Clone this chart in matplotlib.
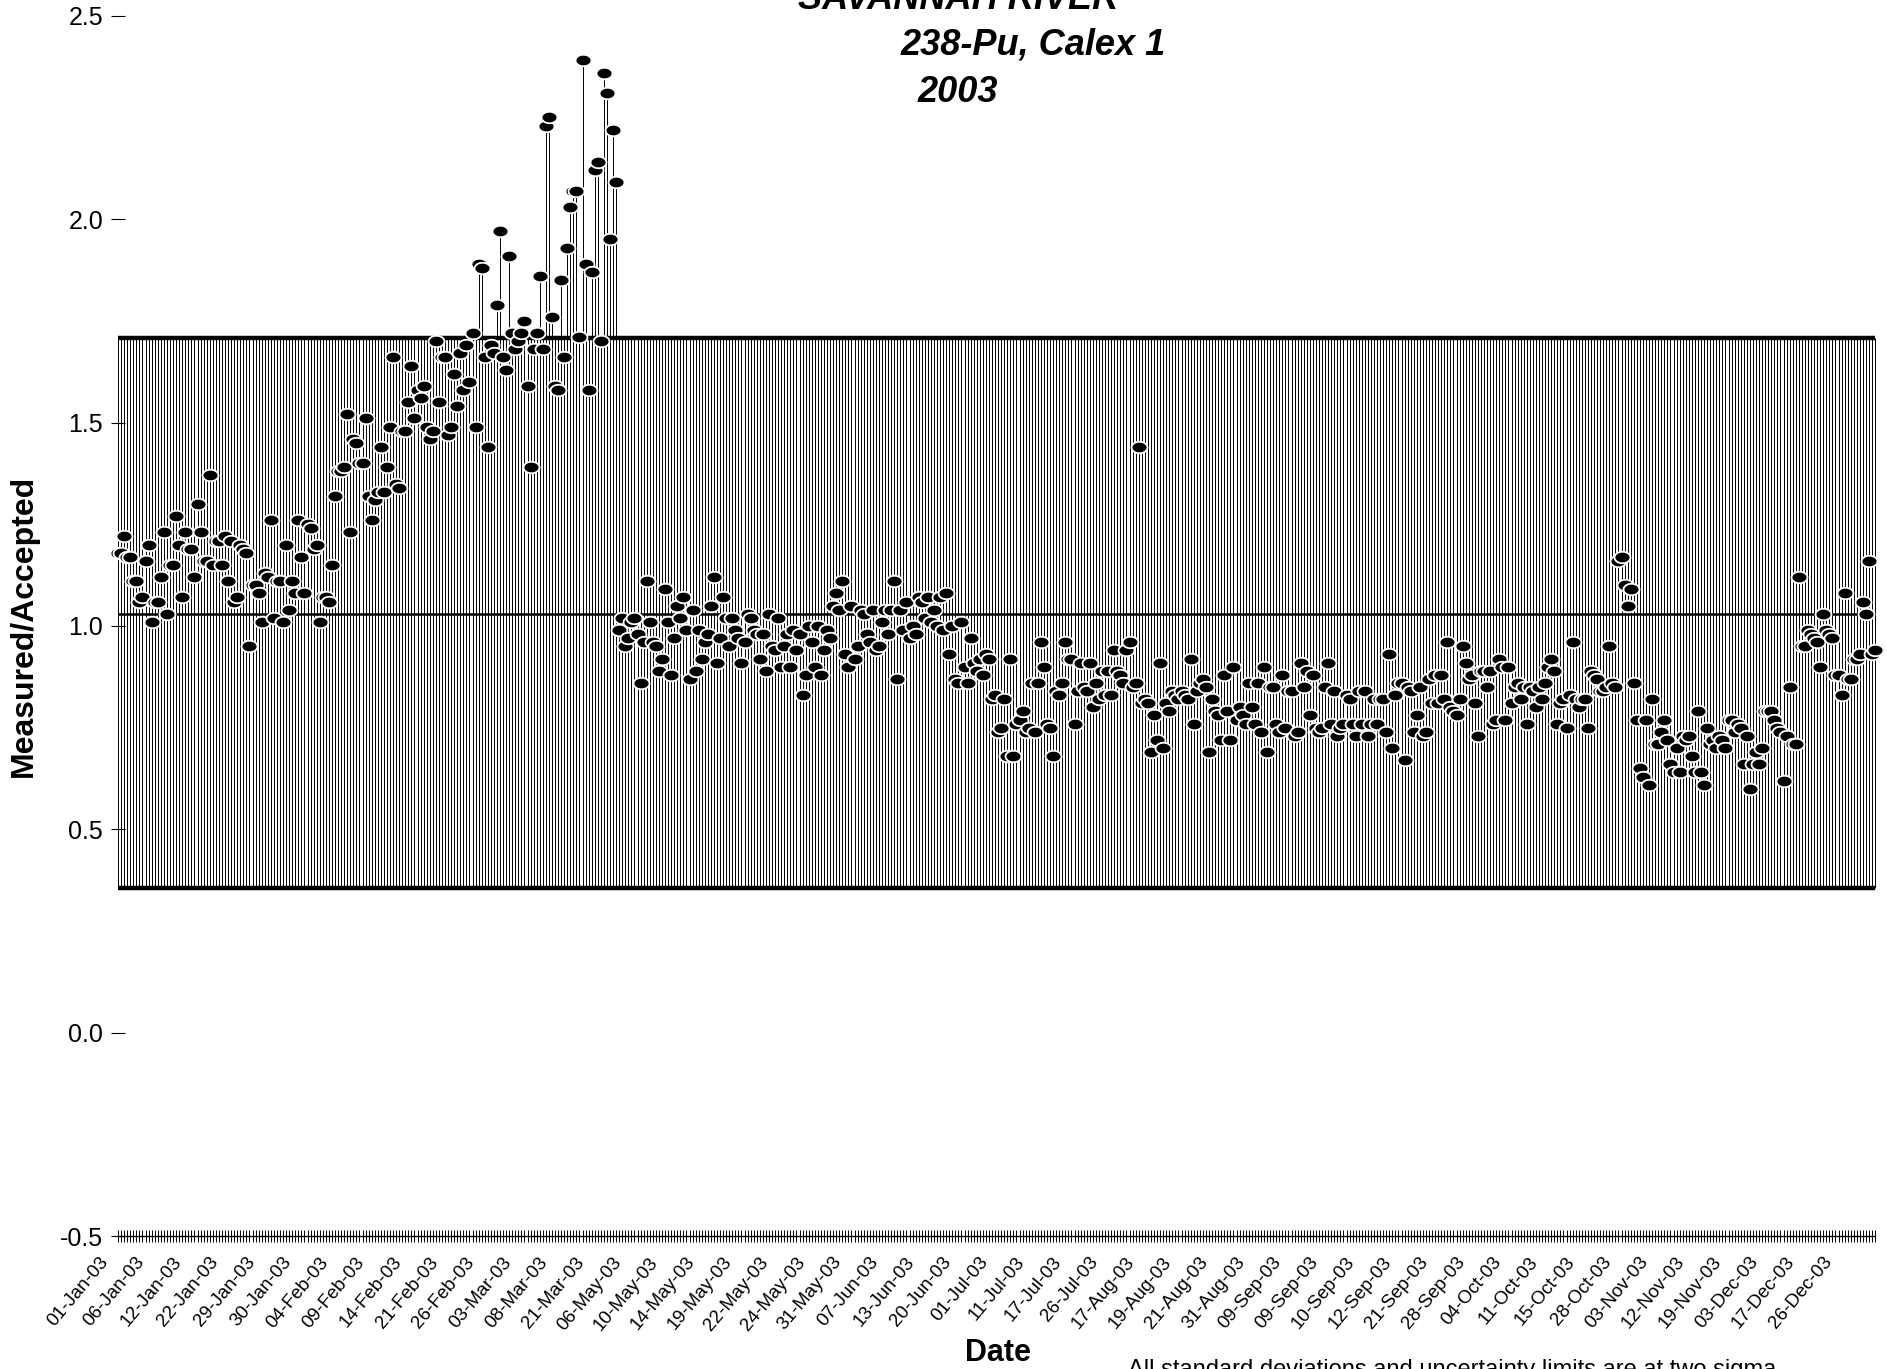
import numpy as np
import matplotlib.pyplot as plt
from matplotlib.path import Path
from matplotlib.transforms import ScaledTranslation

plt.rcParams['font.family'] = ['Liberation Sans', 'DejaVu Sans']

vals_jan = [1.18, 1.18, 1.22, 1.17, 1.17, 1.11, 1.11, 1.06, 1.07, 1.16, 1.20, 1.01,
            1.06, 1.06, 1.12, 1.23, 1.03, 1.15, 1.15, 1.27, 1.20, 1.07, 1.23, 1.19,
            1.19, 1.12, 1.30, 1.23, 1.16, 1.16, 1.37, 1.15, 1.21, 1.21, 1.15, 1.22,
            1.11, 1.21, 1.06, 1.07, 1.20, 1.19, 1.18, 0.95, 1.10, 1.10, 1.08, 1.01,
            1.13, 1.12, 1.26, 1.02, 1.11, 1.11, 1.01, 1.20, 1.04, 1.11, 1.08, 1.26,
            1.17, 1.08, 1.25, 1.24, 1.19, 1.20, 1.01, 1.07, 1.07, 1.06, 1.15, 1.32]
vals_feb = [1.38, 1.38, 1.39, 1.52, 1.23, 1.46, 1.45, 1.40, 1.40, 1.51, 1.32, 1.26,
            1.31, 1.33, 1.44, 1.33, 1.39, 1.49, 1.66, 1.35, 1.34, 1.48, 1.48, 1.55,
            1.64, 1.51, 1.58, 1.56, 1.59, 1.49, 1.46, 1.48, 1.70, 1.55, 1.66, 1.66,
            1.47, 1.49, 1.62, 1.54, 1.67, 1.58, 1.69, 1.60, 1.72, 1.49, 1.89, 1.88,
            1.66, 1.44, 1.69, 1.67, 1.79, 1.97, 1.66, 1.63, 1.91, 1.72, 1.68, 1.70]
vals_mar = [1.72, 1.75, 1.59, 1.39, 1.68, 1.72, 1.86, 1.68, 2.23, 2.25, 1.76, 1.59,
            1.58, 1.85, 1.66, 1.93, 2.03, 2.07, 2.07, 1.71, 2.39, 1.89, 1.58, 1.87,
            2.12, 2.14, 1.70, 2.36, 2.31, 1.95, 2.22, 2.09]
vals_may = [0.99, 1.02, 0.95, 0.97,
            1.01, 1.02, 0.98, 0.86, 0.96, 1.11, 1.01, 0.96, 0.95, 0.89, 0.92, 1.09,
            1.01, 0.88, 0.97, 1.05, 1.02, 1.07, 0.99, 0.87, 1.04, 0.89, 0.99, 0.92,
            0.96, 0.98, 1.05, 1.12, 0.91, 0.97, 1.07, 1.02, 0.95, 1.02, 0.99, 0.97,
            0.91, 0.96, 1.03, 1.02, 0.99, 0.98, 0.92, 0.98, 0.89, 1.03, 0.95, 0.94,
            1.02, 0.90, 0.95, 0.98, 0.90, 0.99, 0.94, 0.98, 0.83, 0.88, 1.00, 0.96,
            0.90, 1.00, 0.88, 0.94, 0.99, 0.97, 1.05, 1.08, 1.04, 1.11, 0.93, 0.90,
            1.05, 0.92, 0.95, 1.04, 1.03, 0.98, 0.96, 1.04, 0.94, 0.95, 1.01, 1.04,
            0.98, 1.04, 1.11, 0.87, 1.04, 0.99, 1.06, 0.97, 1.00, 0.98, 1.07, 1.06,
            1.02, 1.07, 1.01, 1.04, 1.00, 1.07, 0.99, 1.08, 0.93, 1.00, 0.87, 0.86,
            1.01, 0.90, 0.86, 0.97, 0.91, 0.89, 0.92, 0.88, 0.93, 0.92, 0.82, 0.83]
vals_jul = [0.74, 0.75, 0.82, 0.68, 0.92, 0.68, 0.76, 0.77, 0.79, 0.74, 0.75, 0.86,
            0.74, 0.86, 0.96, 0.90, 0.76, 0.75, 0.68, 0.84, 0.83, 0.86, 0.96, 0.92,
            0.92, 0.76, 0.84, 0.91, 0.85, 0.84, 0.91, 0.80, 0.86, 0.82, 0.89, 0.83,
            0.89, 0.83, 0.94, 0.89, 0.88, 0.86, 0.94, 0.96, 0.85, 0.86, 1.44, 0.81,
            0.82, 0.81, 0.69, 0.78, 0.72, 0.91, 0.70, 0.81, 0.79, 0.84, 0.83, 0.82,
            0.84, 0.83, 0.82, 0.92, 0.76, 0.84, 0.86, 0.87, 0.85, 0.69, 0.82, 0.79,
            0.78, 0.72, 0.88, 0.79, 0.72, 0.90, 0.77, 0.80, 0.78, 0.76, 0.86, 0.80,
            0.76, 0.86, 0.74, 0.90, 0.69, 0.85, 0.85, 0.76, 0.74, 0.88, 0.75, 0.84,
            0.84, 0.73, 0.74, 0.91, 0.85, 0.89, 0.78, 0.88, 0.75, 0.74, 0.75, 0.85,
            0.91, 0.76, 0.84, 0.73, 0.75, 0.76, 0.83, 0.82, 0.76, 0.73, 0.84, 0.76,
            0.84, 0.73, 0.76, 0.82, 0.76, 0.82, 0.82, 0.74, 0.93, 0.70, 0.83, 0.86]
vals_fall = [0.86, 0.67, 0.85, 0.84, 0.74, 0.78, 0.85, 0.73, 0.74, 0.87, 0.81, 0.88,
             0.81, 0.88, 0.82, 0.96, 0.80, 0.79, 0.78, 0.82, 0.95, 0.91, 0.87, 0.88,
             0.81, 0.73, 0.89, 0.89, 0.85, 0.89, 0.76, 0.77, 0.92, 0.90, 0.77, 0.90,
             0.81, 0.85, 0.86, 0.82, 0.85, 0.76, 0.85, 0.84, 0.80, 0.85, 0.82, 0.86,
             0.90, 0.92, 0.89, 0.76, 0.81, 0.82, 0.75, 0.83, 0.96, 0.82, 0.80, 0.82,
             0.82, 0.75, 0.89, 0.88, 0.87, 0.84, 0.84, 0.85, 0.95, 0.86, 0.85, 1.16,
             1.17, 1.10, 1.05, 1.09, 0.86, 0.77, 0.65, 0.63, 0.77, 0.61, 0.82, 0.71,
             0.71, 0.74, 0.77, 0.72, 0.66, 0.64, 0.70, 0.64, 0.73, 0.72, 0.73, 0.68,
             0.64, 0.79, 0.64, 0.61, 0.75, 0.71, 0.72, 0.70, 0.73, 0.72, 0.70, 0.77,
             0.77, 0.74, 0.76, 0.75, 0.66, 0.73, 0.60, 0.66, 0.69, 0.66, 0.70, 0.79,
             0.79, 0.79, 0.77, 0.75, 0.74, 0.62, 0.73, 0.85, 0.71, 0.71, 1.12, 0.95,
             0.95, 0.99, 0.98, 0.97, 0.96, 0.90, 1.03, 0.99, 0.98, 0.97, 0.88, 0.88,
             0.83, 1.08, 0.87, 0.87, 0.92, 0.92, 0.93, 1.06, 1.03, 1.16, 0.93, 0.94]

tick_dates = ['01-Jan-03', '06-Jan-03', '12-Jan-03', '22-Jan-03', '29-Jan-03', '30-Jan-03',
              '04-Feb-03', '09-Feb-03', '14-Feb-03', '21-Feb-03', '26-Feb-03', '03-Mar-03',
              '08-Mar-03', '21-Mar-03', '06-May-03', '10-May-03', '14-May-03', '19-May-03',
              '22-May-03', '24-May-03', '31-May-03', '07-Jun-03', '13-Jun-03', '20-Jun-03',
              '01-Jul-03', '11-Jul-03', '17-Jul-03', '26-Jul-03', '17-Aug-03', '19-Aug-03',
              '21-Aug-03', '31-Aug-03', '09-Sep-03', '09-Sep-03', '10-Sep-03', '12-Sep-03',
              '21-Sep-03', '28-Sep-03', '04-Oct-03', '11-Oct-03', '15-Oct-03', '28-Oct-03',
              '03-Nov-03', '12-Nov-03', '19-Nov-03', '03-Dec-03', '17-Dec-03', '26-Dec-03']
label_every = 12

upper_limit = 1.707
lower_limit = 0.355
center_value = 1.03

values = np.array(vals_jan + vals_feb + vals_mar + vals_may + vals_jul + vals_fall)
n = len(values)
x = np.arange(n)

fig = plt.figure(figsize=(18.87, 13.69), dpi=100)
ax = fig.add_axes([0.0577, 0.0821, 0.9409, 0.9124])
ax.set_xlim(-3, n + 2)
ax.set_ylim(-0.55, 2.52)

# one needle per measurement spanning the limit band (or up to the point)
ax.vlines(x, lower_limit, np.maximum(values, upper_limit), colors='black',
          linewidth=0.7, zorder=1)
ax.hlines([upper_limit, lower_limit], 0, n - 1, colors='black', linewidth=3.2, zorder=2)
ax.hlines(center_value, 0, n - 1, colors='black', linewidth=1.8, zorder=2)

t = np.linspace(0, 2 * np.pi, 40)
ellipse = Path(np.column_stack([np.cos(t), 0.72 * np.sin(t)]), closed=True)
ax.plot(x, values, linestyle='none', marker=ellipse, markersize=11.5,
        markerfacecolor='black', markeredgecolor='white', markeredgewidth=1.3,
        zorder=3, clip_on=False)

for side in ['top', 'right']:
    ax.spines[side].set_visible(False)
ax.spines['left'].set_position(('data', 0))
ax.spines['left'].set_color('none')
ax.spines['bottom'].set_position(('data', -0.5))
ax.spines['bottom'].set_bounds(0, n - 1)
ax.spines['bottom'].set_linewidth(1.0)

ax.set_yticks([-0.5, 0.0, 0.5, 1.0, 1.5, 2.0, 2.5])
ax.set_yticklabels(['-0.5', '0.0', '0.5', '1.0', '1.5', '2.0', '2.5'],
                   family=['Liberation Sans Narrow', 'Liberation Sans'])
ax.tick_params(axis='y', direction='inout', length=9.5, width=0.8, pad=6,
               labelsize=18)

ax.set_xticks(x)
ax.set_xticklabels([])
ax.tick_params(axis='x', direction='inout', length=9, width=0.7)

offset = ScaledTranslation(-13 / 100, -23 / 100, fig.dpi_scale_trans)
for j, lab in enumerate(tick_dates):
    ax.text(j * label_every, -0.5, lab, transform=ax.transData + offset,
            rotation=50, rotation_mode='anchor', ha='right', va='center',
            fontsize=13.5)

title_kw = dict(ha='center', va='baseline', fontsize=26, fontweight='bold',
                fontstyle='italic')
fig.text(958 / 1887, 1 - 9 / 1369, 'SAVANNAH RIVER', **title_kw)
fig.text(1033 / 1887, 1 - 55 / 1369, '238-Pu, Calex 1', **title_kw)
fig.text(958 / 1887, 1 - 102 / 1369, '2003', **title_kw)

fig.text(24 / 1887, 1 - 626 / 1369, 'Measured/Accepted', rotation=90,
         ha='center', va='center', fontsize=23, fontweight='bold')
fig.text(998 / 1887, 1 - 1353 / 1369, 'Date', ha='center', va='center',
         fontsize=22, fontweight='bold')
fig.text(1128 / 1887, 1 - 1359 / 1369,
         'All standard deviations and uncertainty limits are at two sigma',
         ha='left', va='top', fontsize=17)

fig.savefig('out.png', dpi=100)
